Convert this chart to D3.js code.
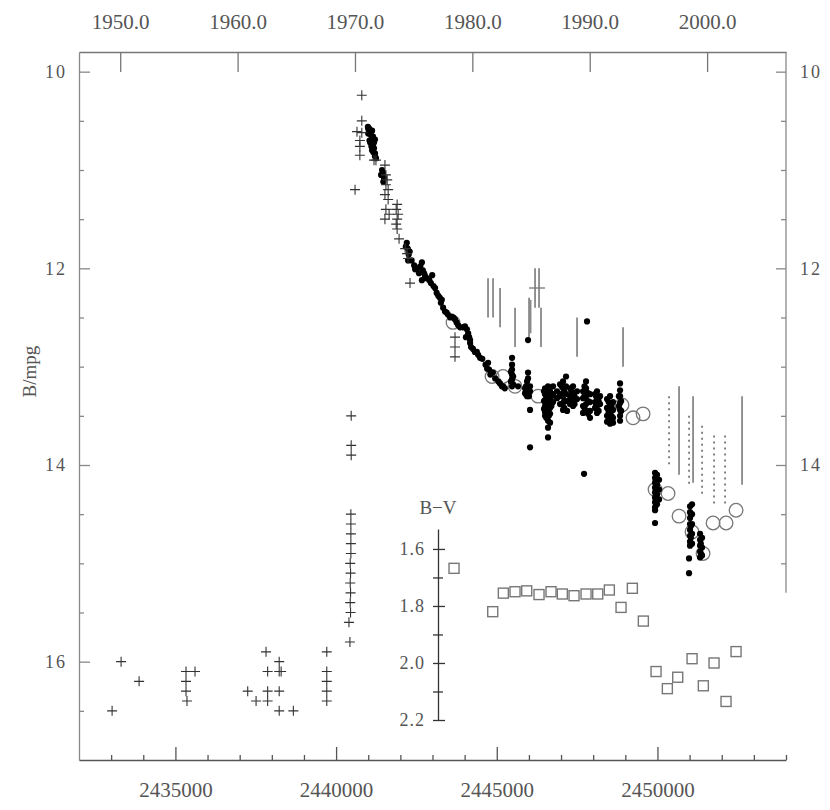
<!DOCTYPE html>
<html>
<head>
<meta charset="utf-8">
<script src="https://cdn.jsdelivr.net/npm/d3@7"></script>
<style>
  body { margin: 0; background: #fff; }
  text { font-family: "Liberation Serif", serif; fill: #555; }
</style>
</head>
<body>
<svg width="830" height="810"></svg>
<script>
  // photographic magnitudes (plus signs)
  var crossPts = [
    [2433030,16.5],[2433310,16.0],[2433870,16.2],
    [2435330,16.1],[2435610,16.1],[2435330,16.2],[2435330,16.3],[2435360,16.4],
    [2437250,16.3],[2437510,16.4],[2437820,15.9],[2437870,16.1],[2437870,16.3],[2437870,16.4],
    [2438230,16.0],[2438230,16.1],[2438290,16.1],[2438230,16.3],[2438230,16.5],[2438670,16.5],
    [2439710,15.9],[2439710,16.1],[2439710,16.2],[2439710,16.3],[2439710,16.4],
    [2440400,15.6],[2440430,15.8],[2440440,15.0],[2440450,15.1],[2440440,15.2],[2440450,15.3],
    [2440440,15.4],[2440450,15.5],
    [2440460,14.5],[2440460,14.6],[2440460,14.7],[2440460,14.8],[2440460,14.9],
    [2440470,13.5],[2440470,13.8],[2440470,13.9],
    [2440590,11.2],[2440800,10.24],[2440800,10.5],[2440650,10.61],[2440800,10.62],
    [2440740,10.7],[2440740,10.76],[2440740,10.85],
    [2441180,10.9],[2441240,10.9],
    [2441520,10.95],[2441550,11.05],[2441590,11.1],[2441550,11.15],[2441620,11.2],
    [2441520,11.25],[2441620,11.3],[2441550,11.4],[2441650,11.45],[2441520,11.5],
    [2441900,11.35],[2441870,11.4],[2441930,11.45],[2441900,11.5],[2441870,11.55],
    [2441900,11.6],[2441960,11.7],
    [2442150,11.8],[2442210,11.85],[2442240,11.9],[2442300,12.15],
    [2443700,12.7],[2443700,12.8],[2443700,12.9]
  ];

  // photoelectric B (filled dots)
  var dotPts = [
    [2440990,10.56],[2441030,10.58],[2441120,10.6],[2441000,10.63],[2441090,10.65],
    [2441120,10.69],[2441210,10.69],[2441060,10.72],[2441150,10.75],[2441120,10.8],
    [2441180,10.78],[2441210,10.83],[2441210,10.86],
    [2441000,10.58],[2441060,10.62],[2441150,10.66],[2441040,10.7],[2441180,10.72],
    [2441100,10.76],[2441160,10.82],[2441240,10.88],
    [2441400,11.05],[2441430,11.0],[2441460,11.03],[2441490,11.08],[2441470,11.12],
    [2442170,11.78],[2442200,11.74],[2442230,11.8],[2442260,11.86],[2442240,11.92],
    [2442290,11.83],[2442350,11.92],
    [2442430,11.97],[2442460,12.01],[2442520,12.0],[2442580,12.05],[2442620,11.98],
    [2442670,11.94],[2442700,12.02],[2442740,12.05],[2442770,12.08],[2442670,12.12],
    [2442820,12.1],[2442900,12.12],[2442950,12.15],[2442990,12.07],
    [2443030,12.18],[2443080,12.2],[2443130,12.25],[2443180,12.28],[2443230,12.3],
    [2443260,12.35],[2443290,12.32],[2443330,12.4],
    [2443390,12.44],[2443440,12.45],[2443480,12.47],[2443550,12.5],[2443600,12.49],
    [2443650,12.5],[2443700,12.52],[2443750,12.55],[2443800,12.58],[2443860,12.6],[2443950,12.6],
    [2444010,12.59],[2444040,12.7],[2444070,12.62],[2444110,12.66],[2444140,12.7],
    [2444170,12.73],[2444170,12.76],[2444200,12.8],[2444260,12.82],
    [2444320,12.85],[2444380,12.85],[2444420,12.88],[2444480,12.91],[2444550,12.92],
    [2444650,12.98],[2444700,13.02],[2444730,12.96],[2444760,13.03],[2444800,13.08],
    [2444880,13.06],[2444950,13.12],[2445050,13.15],[2445100,13.17],[2445160,13.2],
    [2445200,13.2],[2445250,13.22],
    [2445440,13.05],[2445440,13.15],[2445510,13.1],[2445510,13.18],
    [2445475,12.91],[2445475,12.98],[2445475,13.03],[2445475,13.08],[2445475,13.13],[2445475,13.2],
    [2445662,13.2],[2445880,13.22],[2445880,13.27],
    [2445942,13.15],[2445942,13.2],[2445942,13.23],[2445942,13.26],[2445942,13.3],
    [2445910,13.2],[2445910,13.28],[2446000,13.22],[2446000,13.3],
    [2445973,12.73],[2445973,13.06],[2445973,13.12],
    [2446035,13.2],[2446035,13.25],[2446035,13.44],[2446035,13.82],
    [2446502,13.22],[2446502,13.28],[2446502,13.34],[2446502,13.4],[2446502,13.46],[2446502,13.5],
    [2446470,13.25],[2446470,13.35],[2446470,13.43],[2446540,13.3],[2446540,13.42],[2446540,13.52],
    [2446595,13.2],[2446595,13.3],[2446595,13.38],[2446595,13.45],[2446595,13.55],[2446595,13.62],[2446595,13.72],
    [2446620,13.25],[2446620,13.35],[2446620,13.5],
    [2446658,13.25],[2446658,13.32],[2446658,13.42],[2446658,13.48],[2446658,13.57],
    [2446700,13.3],[2446700,13.4],
    [2446751,13.2],[2446751,13.28],[2446751,13.36],
    [2446875,13.25],[2446875,13.32],
    [2446969,13.18],[2446969,13.28],[2446969,13.38],
    [2447020,13.2],[2447020,13.3],
    [2447062,13.15],[2447062,13.22],[2447062,13.3],[2447062,13.37],[2447062,13.44],
    [2447100,13.25],[2447100,13.35],[2447100,13.42],
    [2447155,13.1],[2447155,13.2],[2447155,13.28],[2447187,13.35],[2447187,13.45],
    [2447280,13.22],[2447280,13.3],[2447280,13.38],
    [2447320,13.25],[2447320,13.35],
    [2447373,13.2],[2447373,13.27],[2447373,13.35],[2447373,13.4],
    [2447420,13.3],[2447420,13.38],
    [2447498,13.25],[2447498,13.33],
    [2447684,13.25],[2447684,13.32],[2447684,13.4],[2447684,13.47],
    [2447730,13.2],[2447730,13.3],[2447730,13.42],
    [2447778,13.15],[2447778,13.22],[2447778,13.3],[2447778,13.38],[2447778,13.45],
    [2447840,13.27],[2447840,13.35],[2447840,13.48],
    [2447809,12.54],[2447716,14.09],
    [2447902,13.28],[2447902,13.36],[2447902,13.45],[2447902,13.52],
    [2448058,13.28],[2448058,13.36],[2448058,13.42],
    [2448090,13.3],[2448090,13.4],
    [2448120,13.25],[2448120,13.33],[2448120,13.4],[2448120,13.47],
    [2448170,13.35],[2448170,13.45],
    [2448214,13.3],[2448214,13.38],
    [2448431,13.33],[2448431,13.42],[2448431,13.5],[2448431,13.56],
    [2448480,13.36],[2448480,13.46],[2448480,13.54],
    [2448525,13.3],[2448525,13.38],[2448525,13.46],[2448525,13.53],[2448525,13.58],
    [2448570,13.4],[2448570,13.5],
    [2448618,13.36],[2448618,13.44],[2448618,13.52],[2448618,13.57],
    [2448800,13.3],[2448800,13.4],
    [2448836,13.17],[2448836,13.24],[2448836,13.3],[2448836,13.37],[2448836,13.44],[2448836,13.5],[2448836,13.55],
    [2448870,13.35],[2448870,13.45],
    [2449925,14.08],[2449925,14.13],[2449925,14.18],[2449925,14.23],[2449925,14.28],
    [2449925,14.33],[2449925,14.38],[2449925,14.43],[2449925,14.46],[2449925,14.59],
    [2449950,14.15],[2449950,14.25],[2449950,14.35],
    [2449987,14.1],[2449987,14.2],[2449987,14.3],[2449987,14.4],
    [2450050,14.15],[2450050,14.25],[2450050,14.35],
    [2450983,14.95],[2450983,15.1],
    [2451014,14.42],[2451014,14.48],[2451014,14.54],[2451014,14.6],[2451014,14.66],
    [2451014,14.72],[2451014,14.78],[2451014,14.82],
    [2451040,14.5],[2451040,14.62],[2451040,14.74],
    [2451076,14.4],[2451076,14.5],[2451076,14.6],[2451076,14.7],[2451076,14.8],
    [2451326,14.7],[2451326,14.76],[2451326,14.82],[2451326,14.88],[2451326,14.94],
    [2451350,14.8],[2451350,14.9],
    [2451388,14.74],[2451388,14.84],[2451388,14.92]
  ];

  // seasonal means (open circles)
  var meanPts = [
    [2443639,12.55],[2444853,13.1],[2445195,13.1],[2445568,13.2],[2446284,13.3],
    [2448898,13.39],[2449240,13.52],[2449552,13.48],[2449925,14.25],[2450330,14.29],
    [2450672,14.52],[2451076,14.68],[2451419,14.9],[2451730,14.59],[2452135,14.59],[2452446,14.46]
  ];

  // ranges: [JD, bright end, faint end]
  var rangeSolid = [
    [2444728,12.1,12.5],[2444884,12.1,12.5],[2445102,12.2,12.6],[2445568,12.4,12.8],
    [2446004,12.3,12.7],[2446051,12.32,12.66],[2446191,12.0,12.4],[2446315,12.0,12.4],
    [2446377,12.4,12.8],[2447498,12.5,12.9],[2448929,12.6,13.0],
    [2450672,13.2,14.1],[2451108,13.3,14.18],[2452633,13.3,14.2]
  ];
  var rangeDotted = [
    [2450361,13.3,14.0],[2450983,13.5,14.22],[2451388,13.6,14.3],[2451761,13.7,14.43],[2452104,13.7,14.43]
  ];
  var bigCross = [[2446253,12.2]];

  // B-V colours (inset)
  var bvJD = [2443670,2444874,2445204,2445568,2445932,2446315,2446688,2447040,2447404,2447778,
    2448142,2448503,2448867,2449219,2449561,2449956,2450308,2450631,2451077,2451428,2451761,2452134,2452446];
  var bvVal = [1.668,1.82,1.755,1.75,1.747,1.76,1.75,1.758,1.764,1.758,
    1.758,1.744,1.805,1.738,1.853,2.03,2.09,2.05,1.985,2.08,2.0,2.135,1.96];

  var jdMajor = [2435000,2440000,2445000,2450000];
  var years = [1950,1960,1970,1980,1990,2000];
  var magMajorLeft = [10,12,14,16];
  var magMajorRight = [10,12,14];
  var bvMajor = [1.6,1.8,2.0,2.2];
  var bvMinor = [1.7,1.9,2.1];

  var svg = d3.select("svg");

  var x = d3.scaleLinear().domain([2432000, 2454000]).range([79, 786]);
  var y = d3.scaleLinear().domain([9.8, 17.0]).range([52, 760]);
  var bv = d3.scaleLinear().domain([1.53, 2.2]).range([529, 720]);

  function yearToJD(yr) { return 2433282.5 + (yr - 1950) * 365.25; }

  var jdMinor = d3.range(2433000, 2454001, 1000).filter(function(d){ return d % 5000 != 0; });
  var magMinorLeft = d3.range(10.5, 16.6, 0.5).filter(function(d){ return d % 2 != 0; });
  var magMinorRight = d3.range(10.5, 15.01, 0.5).filter(function(d){ return d % 2 != 0; });

  function styleAxis(g, col) {
    g.selectAll("path").attr("stroke", col).attr("stroke-width", 1.3);
    g.selectAll("line").attr("stroke", col).attr("stroke-width", 1.3);
    g.selectAll("text").attr("font-family", "Liberation Serif, serif").attr("fill", "#555");
  }

  // bottom axis (JD)
  var gB = svg.append("g").attr("transform", "translate(0,760)")
    .call(d3.axisBottom(x).tickValues(jdMajor).tickSize(-13).tickSizeOuter(0).tickPadding(22)
      .tickFormat(d3.format("d")));
  gB.selectAll("text").attr("font-size", 21).attr("dy", "0.71em");
  styleAxis(gB, "#555");
  var gBm = svg.append("g").attr("transform", "translate(0,760)")
    .call(d3.axisBottom(x).tickValues(jdMinor).tickSize(-5).tickFormat(""));
  gBm.select(".domain").remove();
  styleAxis(gBm, "#555");

  // top axis (years)
  var gT = svg.append("g").attr("transform", "translate(0,52)")
    .call(d3.axisTop(x).tickValues(years.map(yearToJD)).tickSize(-20).tickSizeOuter(0).tickPadding(23)
      .tickFormat(function(d, i){ return years[i].toFixed(1); }));
  gT.selectAll("text").attr("font-size", 21).attr("dy", "0em");
  styleAxis(gT, "#777");

  // left axis
  var gL = svg.append("g").attr("transform", "translate(79,0)")
    .call(d3.axisLeft(y).tickValues(magMajorLeft).tickSize(-11).tickSizeOuter(0).tickPadding(12)
      .tickFormat(d3.format("d")));
  gL.selectAll("text").attr("font-size", 18).attr("letter-spacing", 2);
  styleAxis(gL, "#888");
  var gLm = svg.append("g").attr("transform", "translate(79,0)")
    .call(d3.axisLeft(y).tickValues(magMinorLeft).tickSize(-5).tickFormat(""));
  gLm.select(".domain").remove();
  styleAxis(gLm, "#888");

  // right axis, stops near 15.3
  var gR = svg.append("g").attr("transform", "translate(786,0)")
    .call(d3.axisRight(y).tickValues(magMajorRight).tickSize(-10).tickSizeOuter(0).tickPadding(14)
      .tickFormat(d3.format("d")));
  gR.select(".domain").remove();
  gR.selectAll("text").attr("font-size", 18).attr("letter-spacing", 2);
  styleAxis(gR, "#888");
  var gRm = svg.append("g").attr("transform", "translate(786,0)")
    .call(d3.axisRight(y).tickValues(magMinorRight).tickSize(-5).tickFormat(""));
  gRm.select(".domain").remove();
  styleAxis(gRm, "#888");
  svg.append("line").attr("x1", 786).attr("x2", 786).attr("y1", y(9.8)).attr("y2", y(15.3))
    .attr("stroke", "#888").attr("stroke-width", 1.3);

  svg.append("text").attr("transform", "translate(36," + y(13.05) + ") rotate(-90)")
    .attr("text-anchor", "middle").attr("font-size", 19).text("B/mpg");

  // inset B-V axis
  var gI = svg.append("g").attr("transform", "translate(438,0)")
    .call(d3.axisLeft(bv).tickValues(bvMajor).tickSize(5).tickSizeOuter(0).tickPadding(8)
      .tickFormat(d3.format(".1f")));
  gI.selectAll(".tick line").attr("x2", 7).attr("x1", -5);
  gI.selectAll("text").attr("font-size", 18).attr("letter-spacing", 1);
  styleAxis(gI, "#333");
  var gIm = svg.append("g").attr("transform", "translate(438,0)")
    .call(d3.axisLeft(bv).tickValues(bvMinor).tickSize(5).tickFormat(""));
  gIm.select(".domain").remove();
  gIm.selectAll(".tick line").attr("x2", 5).attr("x1", -5);
  styleAxis(gIm, "#333");
  svg.append("text").attr("x", 438).attr("y", 514).attr("text-anchor", "middle")
    .attr("font-size", 19).text("B\u2212V");

  // range bars
  svg.append("g").selectAll("line").data(rangeSolid).enter().append("line")
    .attr("x1", function(d){ return x(d[0]); }).attr("x2", function(d){ return x(d[0]); })
    .attr("y1", function(d){ return y(d[1]); }).attr("y2", function(d){ return y(d[2]); })
    .attr("stroke", "#888").attr("stroke-width", 1.8);
  svg.append("g").selectAll("line").data(rangeDotted).enter().append("line")
    .attr("x1", function(d){ return x(d[0]); }).attr("x2", function(d){ return x(d[0]); })
    .attr("y1", function(d){ return y(d[1]); }).attr("y2", function(d){ return y(d[2]); })
    .attr("stroke", "#333").attr("stroke-width", 1.2).attr("stroke-dasharray", "2,4");
  svg.append("g").selectAll("path").data(bigCross).enter().append("path")
    .attr("transform", function(d){ return "translate(" + x(d[0]) + "," + y(d[1]) + ")"; })
    .attr("d", "M-8,0H8").attr("stroke", "#777").attr("stroke-width", 1.3);

  // open circles
  svg.append("g").selectAll("circle").data(meanPts).enter().append("circle")
    .attr("cx", function(d){ return x(d[0]); }).attr("cy", function(d){ return y(d[1]); })
    .attr("r", 6.8).attr("fill", "none").attr("stroke", "#777").attr("stroke-width", 1.3);

  // filled dots
  svg.append("g").selectAll("circle").data(dotPts).enter().append("circle")
    .attr("cx", function(d){ return x(d[0]); }).attr("cy", function(d){ return y(d[1]); })
    .attr("r", 3.1).attr("fill", "#000");

  // crosses
  svg.append("g").selectAll("path").data(crossPts).enter().append("path")
    .attr("transform", function(d){ return "translate(" + x(d[0]) + "," + y(d[1]) + ")"; })
    .attr("d", "M-5,0H5M0,-5V5").attr("stroke", "#333").attr("stroke-width", 1.1).attr("fill", "none");

  // B-V squares
  svg.append("g").selectAll("rect").data(bvJD).enter().append("rect")
    .attr("x", function(d){ return x(d) - 5; })
    .attr("y", function(d, i){ return bv(bvVal[i]) - 5; })
    .attr("width", 10).attr("height", 10)
    .attr("fill", "none").attr("stroke", "#777").attr("stroke-width", 1.4);
</script>
</body>
</html>
